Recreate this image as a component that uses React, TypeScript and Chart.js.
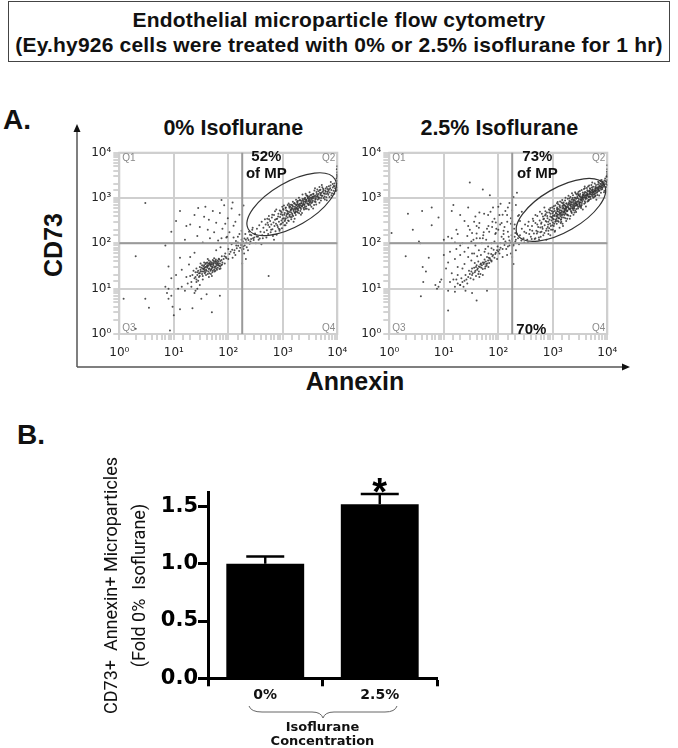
import React, { useEffect, useRef } from "react";
import { Chart, registerables } from "chart.js";

Chart.register(...registerables);

type P = [number, number];

const titleA = "0% Isoflurane";
const titleB = "2.5% Isoflurane";
const barLabels = ["0%", "2.5%"];
const barValues = [1.0, 1.52];
const barErrors = [0.063, 0.088];
const decadeLabels: Record<number, string> = { 1: "10⁰", 10: "10¹", 100: "10²", 1000: "10³", 10000: "10⁴" };

const clusterLowA: P[] = [
  [52,30],[48,34],[45,28],[58,36],[40,31],[62,33],[55,26],[36,27],[66,40],[50,38],[43,24],[60,28],[33,24],[70,36],[47,32],[38,35],[54,41],[42,21],[75,43],[30,22],
  [57,31],[35,31],[64,29],[46,37],[39,26],[51,23],[68,32],[44,42],[28,25],[72,28],[41,29],[59,44],[32,29],[49,27],[78,38],[37,22],[53,35],[27,20],[61,39],[34,19],
  [47,25],[56,29],[43,33],[65,35],[31,26],[82,45],[25,23],[38,30],[69,27],[45,36],[29,18],[52,43],[35,24],[74,33],[41,38],[58,25],[26,28],[48,21],[63,42],[33,33],
  [24,17],[39,20],[86,36],[55,47],[30,30],[67,46],[23,25],[44,18],[90,50],[36,38],[22,20],[28,15],[34,16],[20,19],[50,19],[42,45],[76,52],[26,16],[21,14],[31,36],
  [49,31],[37,29],[61,35],[44,27],[53,33],[40,25],[57,39],[35,27],[46,34],[64,37],[41,33],[51,29],[33,21],[72,41],[29,22],[56,24],[38,23],[68,44],[43,36],[48,26],
  [59,31],[36,33],[54,37],[31,24],[47,40],[62,26],[27,23],[39,37],[77,34],[45,22],[34,28],[52,25],[66,33],[30,19],[42,31],[58,41],[25,18],[71,31],[37,25],[50,35],
];
const clusterHighA: P[] = [
  [310,165],[335,210],[350,140],[370,250],[390,180],[410,300],[420,150],[440,220],[455,175],[470,340],[485,260],[500,135],[510,195],[525,285],[540,160],[555,400],[570,230],[585,310],[600,175],[615,260],
  [630,370],[645,205],[660,145],[675,290],[690,420],[705,240],[720,330],[735,185],[750,270],[770,155],[790,350],[810,230],[830,450],[850,300],[870,190],[890,380],[905,260],[925,510],[945,320],[965,215],
  [985,420],[1000,290],[1030,550],[1050,360],[1070,250],[1090,470],[1110,330],[1140,620],[1160,400],[1180,280],[1210,520],[1230,370],[1260,450],[1290,310],[1310,660],[1340,490],[1370,380],[1400,560],[1430,340],[1460,710],
  [1490,450],[1520,590],[1550,400],[1580,520],[1610,760],[1640,480],[1670,640],[1700,560],[1730,420],[1760,700],[1790,590],[1820,500],[1860,810],[1890,640],[1920,540],[1960,720],[2000,460],[2040,620],[2080,880],[2120,690],
  [2160,570],[2200,780],[2250,650],[2300,950],[2350,730],[2400,600],[2450,840],[2500,700],[2560,1020],[2620,790],[2680,650],[2740,900],[2800,760],[2860,1080],[2930,850],[3000,720],[3070,980],[3140,820],[3220,1150],[3300,930],
  [3380,780],[3460,1050],[3550,880],[3640,1250],[3730,1000],[3830,840],[3930,1130],[4030,960],[4140,1350],[4250,1090],[4370,930],[4490,1220],[4620,1030],[4750,1480],[4890,1160],[5030,1000],[5180,1330],[5340,1120],[5500,1600],[5670,1270],
  [5850,1080],[6030,1450],[6220,1220],[6420,1750],[6620,1380],[6830,1180],[7050,1560],[7280,1330],[7520,1900],[7760,1500],[8010,1280],[8280,1700],[8550,1450],[8830,2100],[9120,1650],[9420,1420],[9700,1900],[10000,1700],
  [10000,2400],[10000,2900],[9900,3300],[10000,3700],[9800,4300],[10000,2100],[9700,2700],[10000,5000],[10000,3100],[9950,1500],
  [950,480],[1150,540],[1350,430],[1500,680],[1700,480],[1900,870],[2100,520],[2350,870],[2600,580],[2900,1010],[3200,700],[3600,1080],[4000,820],[4500,1410],[5000,880],[5600,1500],[6300,1040],[7000,1820],[7800,1150],[8600,1850],
  [1250,320],[1450,560],[1650,350],[1850,740],[2050,750],[2250,470],[2450,950],[2700,1150],[3000,560],[3350,1180],[3750,700],[4200,1230],[4700,790],[5300,1720],[5900,930],[6600,1580],[720,510],[560,340],[840,210],[1050,680],
];
const jitterA: P[] = [
  [1320,610],[2450,560],[880,205],[3100,1340],[640,430],[1980,1010],[5200,1950],[1120,250],[760,560],[2750,580],[4100,720],[1580,300],[3600,590],[6400,890],[980,640],[2300,1190],[520,350],[7200,1050],[1750,920],[430,130],
  [8800,1250],[1280,760],[3900,1650],[690,120],[2150,430],[1430,480],[3350,640],[820,390],[4700,1750],[1090,310],[2620,1240],[5600,1000],[1530,830],[610,200],[3050,880],[1860,560],[7600,2250],[940,270],[2240,670],[1370,640],
  [4350,1130],[1670,470],[2880,990],[1190,440],[6100,1620],[790,250],[3480,820],[2060,900],[1010,570],[5000,1240],[1460,380],[2530,630],[3800,1470],[880,530],[1760,610],[4600,960],[1230,700],[2950,700],[6900,1440],[1640,780],
  [2120,610],[3200,1020],[1070,430],[8200,2050],[1890,480],[2710,840],[540,255],[1390,530],[3950,920],[760,345],[5450,1390],[2380,780],[1540,650],[3620,1230],[990,350],[1980,690],[4900,1530],[1320,400],[2800,1120],[6700,1280],
  [1120,600],[2220,860],[3050,1080],[1700,730],[4300,1540],[1450,600],[2600,850],[3500,970],[1900,590],[5800,1250],[1250,500],[2480,730],[3270,860],[1810,680],[4050,1050],[920,440],[7400,1640],[1580,550],[2170,760],[3020,920],
  [1660,590],[2330,690],[3150,780],[1220,460],[4450,1040],[2660,920],[1830,830],[5150,1120],[1360,710],[3760,1090],[8900,1820],[3380,1000],[2020,650],[1140,360],[6150,1370],[2900,760],[1730,510],[4800,1310],[1500,420],[2550,950],
];
const sparseA: P[] = [
  [2,52],[3,780],[1.2,6],[3.5,3.8],[7,11],[8,10],[7.5,8],[9,7],[8,6],[9.5,4],[10,2.6],[8.5,1.2],[13,3.5],[22,3.7],[12,10],[14,11],[16,9],[18,13],[21,11],[25,9],[26,14],[30,12],[27,10],[17,18],[14,26],[19,34],[11,20],[9,17],[8,31],[13,48],[20,50],[24,62],
  [7,90],[11,310],[16,120],[9,180],[27,145],[13,520],[20,260],[34,105],[24,420],[30,230],[46,130],[38,640],[55,175],[44,330],[65,115],[52,520],[78,210],[60,285],[92,135],[70,470],[105,175],[84,690],[125,245],[98,360],[150,140],[115,590],[175,190],[135,300],[210,120],[160,430],[250,155],[190,680],[280,220],[120,800],[75,900],[42,200],[17,240],[28,600],[36,385],[88,270],
  [60,70],[72,82],[88,60],[100,75],[115,95],[130,70],[150,105],[175,120],[200,90],[225,130],[255,110],[285,130],[320,100],[360,120],[405,95],[195,60],[210,45],[180,36],[190,75],[230,70],[265,150],[160,160],[125,135],[95,140],[75,130],
  [110,65],[140,90],[165,80],[185,110],[205,160],[240,180],[275,200],[300,135],[120,48],[135,55],[85,52],[100,45],[550,19],[70,7],[50,3],[40,7.5],[32,6],[24,8],[3,6],[2,1.3],
  [92,47],[105,58],[118,72],[128,62],[143,78],[158,68],[172,92],[188,85],[215,105],[235,118],[262,125],[218,82],[198,128],[178,72],[152,88],[138,112],[246,98],[292,118],[332,142],[378,128],
];

const clusterLowB: P[] = [
  [50,33],[46,30],[55,38],[42,28],[60,35],[38,25],[65,42],[52,27],[34,22],[70,47],[48,36],[44,24],[58,31],[30,21],[75,40],[40,33],[62,50],[36,29],[80,55],[28,18],
  [56,44],[47,21],[33,28],[68,37],[43,40],[26,16],[85,48],[52,20],[39,19],[90,62],[24,15],[74,58],[31,17],[95,70],[29,25],[66,30],[22,14],[100,66],[37,37],[110,80],
  [25,20],[120,75],[20,12],[130,92],[35,16],[140,100],[18,13],[150,85],[27,13],[160,115],[21,17],[170,105],[23,11],[180,125],[45,18],[190,95],[17,16],[200,140],[16,11],[210,120],
  [49,29],[54,35],[44,31],[59,40],[41,26],[63,36],[37,23],[71,43],[47,34],[52,38],[33,20],[78,52],[57,28],[43,21],[67,48],[32,24],[88,58],[39,30],[105,72],[61,32],
];
const clusterHighB: P[] = [
  [250,150],[270,210],[290,130],[310,260],[325,170],[340,120],[360,300],[380,200],[395,140],[415,240],[430,350],[450,165],[465,125],[480,280],[500,190],[520,400],[540,230],[555,135],[575,320],[590,175],
  [610,270],[630,450],[650,210],[670,150],[690,350],[710,250],[730,510],[750,190],[770,300],[790,400],[810,230],[830,160],[850,560],[870,330],[890,270],[910,450],[930,200],[950,370],[975,620],[1000,290],
  [1020,500],[1040,240],[1060,400],[1085,180],[1110,680],[1130,330],[1155,460],[1180,270],[1205,560],[1230,380],[1255,730],[1280,300],[1305,490],[1330,220],[1360,420],[1390,620],[1420,340],[1450,800],[1480,510],[1510,270],
  [1540,440],[1570,680],[1600,370],[1640,560],[1680,880],[1720,460],[1760,310],[1800,620],[1840,520],[1880,960],[1920,410],[1960,720],[2000,570],[2050,350],[2100,1050],[2150,640],[2200,490],[2250,820],[2300,590],[2350,1150],
  [2400,430],[2460,720],[2520,900],[2580,530],[2640,1260],[2700,680],[2770,820],[2840,1000],[2910,590],[2980,1380],[3050,760],[3130,1100],[3210,920],[3300,670],[3390,1500],[3480,850],[3570,1200],[3670,1010],[3770,750],[3870,1640],
  [3980,950],[4090,1320],[4200,1120],[4320,840],[4440,1790],[4560,1050],[4690,1440],[4820,1230],[4960,950],[5100,1950],[5250,1160],[5400,1570],[5550,1350],[5710,1050],[5880,2100],[6050,1280],[6230,1720],[6410,1480],[6600,1170],[6800,2300],
  [7000,1420],[7200,1880],[7420,1620],[7640,1300],[7870,2500],[8110,1580],[8360,2050],[8620,1780],[8880,1450],[9150,2700],[9430,1750],[9720,2250],[10000,1950],[10000,2900],[10000,3400],[10000,2500],[9900,3800],[10000,4300],[10000,5300],[9950,3100],
  [660,390],[780,480],[900,600],[1040,660],[1190,770],[1360,840],[1550,620],[1770,760],[2010,860],[2290,1000],[2610,760],[2950,1170],[3350,890],[3800,1280],[4300,1480],[4850,1590],[5500,1780],[6200,1940],[7000,2180],[7900,1900],
  [700,170],[820,260],[950,320],[1090,420],[1240,510],[1420,480],[1610,590],[1830,430],[2080,690],[2370,780],[2690,960],[3060,640],[3480,1050],[3950,1150],[4470,1200],[5070,1340],[5750,1480],[6500,1640],[7350,1780],[8300,2300],
  [1150,310],[1300,360],[1470,410],[1650,500],[1890,640],[2150,520],[2450,620],[2800,720],[3150,810],[3600,920],[4100,1040],[4650,920],[5300,1100],[6000,1600],[6800,1520],[7700,2050],[8700,2150],[520,260],[440,310],[370,160],
  [1200,620],[1350,540],[1520,760],[1720,660],[1950,780],[2220,920],[2520,660],[2860,840],[3260,1020],[3700,1120],[4200,970],[4750,1350],[5400,1250],[6100,1400],[6900,1760],[7800,1540],[600,140],[480,130],[560,120],[410,125],
  [760,120],[900,150],[1000,200],[1400,280],[1700,360],[2500,480],[3400,700],[4500,860],[6000,1100],[700,620],[580,500],[480,420],[350,240],[300,180],[230,130],[205,110],[240,95],[265,115],[300,105],[350,105],
];
const jitterB: P[] = [
  [1260,430],[2380,540],[860,215],[3150,1430],[620,290],[1940,1120],[5300,2200],[1100,190],[740,440],[2680,490],[4050,650],[1540,240],[3550,560],[6300,920],[960,520],[2250,1280],[510,165],[7100,1130],[1710,1010],[420,190],
  [8700,1340],[1230,820],[3850,1800],[670,340],[2100,400],[1400,330],[3300,600],[800,360],[4650,1900],[1060,270],[2570,1340],[5500,1010],[1490,900],[590,225],[3000,950],[1820,510],[7500,2450],[920,240],[2190,720],[1340,690],
  [4280,1210],[1630,420],[2830,1070],[1160,390],[6000,1750],[770,210],[3420,780],[2020,980],[990,460],[4900,1350],[1430,300],[2480,590],[3730,1590],[860,480],[1720,540],[4520,900],[1200,580],[2900,640],[6800,1550],[1600,720],
  [2070,560],[3140,1090],[1040,340],[8100,2250],[1850,430],[2660,780],[530,180],[1360,470],[3880,850],[740,310],[5350,1500],[2330,700],[1510,590],[3550,1320],[970,380],[1940,620],[4800,1650],[1290,360],[2750,1200],[6600,1380],
  [1090,520],[2170,790],[2990,1160],[1660,680],[4220,1660],[1420,530],[2550,780],[3430,1040],[1860,530],[5700,1350],[1220,440],[2430,670],[3210,800],[1770,620],[3970,1130],[900,390],[7300,1770],[1550,480],[2120,700],[2960,860],
  [1620,520],[2280,630],[3090,720],[1190,410],[4370,1120],[2610,850],[1790,760],[5050,1210],[1330,640],[3690,1180],[8800,1960],[3310,930],[1970,580],[1110,300],[6050,1480],[2840,690],[1690,450],[4700,1420],[1470,370],[2490,1010],
  [830,300],[1010,410],[1240,310],[1580,800],[1840,350],[2230,470],[2720,570],[3260,640],[3940,790],[4610,1070],[5150,1480],[5800,1220],[6450,1300],[7200,1470],[8000,1700],[8900,2450],[9500,2050],[9650,3000],[640,230],[720,410],
  [890,540],[1060,580],[1290,570],[1500,670],[1700,580],[2090,840],[2360,920],[2620,1020],[2890,1280],[3180,1230],[3530,1010],[3900,1350],[4310,1260],[4780,1100],[5220,1700],[5650,1180],[6150,1600],[6750,1990],[7450,2070],[8250,1880],
  [1140,470],[1380,390],[1610,490],[1880,700],[2140,590],[2410,860],[2740,740],[3120,690],[3520,1120],[3960,1020],[4410,1390],[4870,1050],[5430,1400],[6080,1130],[6950,1630],[7950,1720],[980,250],[1180,350],[1350,450],[1730,640],
  [1000,350],[1200,510],[1450,440],[1750,570],[2050,770],[2350,580],[2650,690],[3050,800],[3450,960],[3850,1060],[4250,1180],[4750,1240],[5350,1320],[5950,1430],[6700,1700],[7600,1800],[8500,2000],[9300,2350],[830,190],[620,180],
];
const sparseB: P[] = [
  [2,52],[2.7,200],[3.5,110],[2.2,450],[4,520],[6,620],[1.1,170],[3.8,6.8],[3.7,100],[4.2,14],[4.1,30],[4.7,24],[5.3,48],[7,12],[8,11],[8.5,14],[9,16],[7.5,10],[12,9],[13,14],[15,16],[16,8.5],[18,20],[11,28],[12,3.3],[20,12],[25,9],[33,8],[40,5.5],[62,9],
  [6,250],[12,140],[8,370],[17,200],[10,120],[24,310],[14,520],[33,170],[20,420],[45,280],[28,620],[52,130],[38,390],[72,500],[62,210],[100,640],[85,350],[135,520],[115,280],[160,780],[190,1050],[145,420],[220,1300],[70,1150],[52,1550],[15,700],[30,2200],[40,240],[55,450],[90,170],[105,420],[125,160],[180,300],[240,420],[210,700],
  [14,130],[16,105],[18,160],[22,100],[27,145],[30,200],[35,120],[40,165],[46,130],[53,150],[60,120],[68,180],[77,230],[88,160],[100,200],[115,140],[130,230],[150,180],[170,270],[195,210],[220,160],[250,310],[120,430],[90,290],[75,100],
  [24,65],[28,80],[33,60],[38,90],[44,70],[50,100],[58,75],[65,85],[75,78],[85,110],[97,85],[110,100],[125,125],[140,75],[155,140],[175,150],[190,90],[210,70],[180,50],[190,35],[170,60],[145,55],[120,50],[95,45],[75,42],
  [16,45],[20,55],[24,35],[28,50],[32,42],[36,60],[41,52],[18,30],[22,28],[14,22],[12,38],[10,55],[17,75],[20,90],[13,65],[32,110],[40,130],[48,55],[56,65],[66,60],[82,72],[105,60],[135,110],[160,90],[205,170],
  [28,240],[36,300],[44,220],[54,175],[66,240],[78,300],[92,210],[108,260],[125,190],[146,300],[170,360],[200,260],[230,400],[270,500],[65,420],[80,620],[150,620],[45,480],[110,750],[180,540],
];

const ellipseA = { x: 1455, y: 730 };
const ellipseB = { x: 1410, y: 546 };

const axisFont = { family: "'Liberation Sans', Arial, sans-serif" };
const wideFont = { family: "'DejaVu Sans', sans-serif" };

const cytoPlugin = (ell: { x: number; y: number }, notes: [string, number, number][]) => ({
  id: "cyto",
  beforeDatasetsDraw(c: any) {
    const { ctx, chartArea: a } = c;
    ctx.save();
    ctx.strokeStyle = "#cfcfcf";
    ctx.lineWidth = 2;
    ctx.strokeRect(a.left, a.top, a.right - a.left, a.bottom - a.top);
    ctx.restore();
  },
  afterDatasetsDraw(c: any) {
    const { ctx, chartArea: a, scales } = c;
    ctx.save();
    ctx.strokeStyle = "#9a9a9a";
    ctx.lineWidth = 2;
    const qx = scales.x.getPixelForValue(180);
    const qy = scales.y.getPixelForValue(100);
    ctx.beginPath();
    ctx.moveTo(qx, a.top);
    ctx.lineTo(qx, a.bottom);
    ctx.moveTo(a.left, qy);
    ctx.lineTo(a.right, qy);
    ctx.stroke();
    ctx.strokeStyle = "#333";
    ctx.lineWidth = 1.2;
    ctx.beginPath();
    ctx.ellipse(scales.x.getPixelForValue(ell.x), scales.y.getPixelForValue(ell.y), 50, 22, -Math.PI / 6, 0, Math.PI * 2);
    ctx.stroke();
    ctx.font = "10px " + axisFont.family;
    ctx.fillStyle = "#8a8a8a";
    ctx.textBaseline = "middle";
    ctx.textAlign = "left";
    ctx.fillText("Q1", a.left + 3, a.top + 6);
    ctx.fillText("Q3", a.left + 3, a.bottom - 6);
    ctx.textAlign = "right";
    ctx.fillText("Q2", a.right - 2, a.top + 6);
    ctx.fillText("Q4", a.right - 2, a.bottom - 6);
    ctx.fillStyle = "#111";
    ctx.textAlign = "center";
    ctx.font = "bold 15px " + axisFont.family;
    notes.forEach(([t, x, y]) => ctx.fillText(t, a.left + x, a.top + y));
    ctx.restore();
  },
});

function makeCyto(canvas: HTMLCanvasElement, pts: P[], rightPad: number, plugin: any) {
  const isDecade = (v: number) => Number.isInteger(Math.round(Math.log10(v) * 1e6) / 1e6);
  const axis = (extra: any, padding: number) => ({
    type: "logarithmic",
    min: 1,
    max: 10000,
    border: { color: "#cfcfcf", width: 2 },
    grid: {
      color: (c: any) => (c.tick && isDecade(c.tick.value) ? "#cfcfcf" : "rgba(0,0,0,0)"),
      lineWidth: 2,
      tickColor: "#a8a8a8",
      tickWidth: 1,
      tickLength: 6,
    },
    ticks: {
      autoSkip: false,
      maxRotation: 0,
      minRotation: 0,
      color: "#222",
      padding,
      font: { ...wideFont, size: 12 },
      callback: (v: number) => decadeLabels[Math.round(v * 1000) / 1000] ?? "",
    },
    ...extra,
  });
  return new Chart(canvas, {
    type: "scatter",
    data: {
      datasets: [
        {
          data: pts.map(([x, y]) => ({ x, y })),
          backgroundColor: "rgba(50,50,50,0.85)",
          borderWidth: 0,
          pointRadius: 1,
        },
      ],
    },
    options: {
      responsive: false,
      animation: false,
      layout: { padding: { right: rightPad, top: 42.7 } },
      plugins: {
        legend: { display: false },
        tooltip: { enabled: false },
        title: { display: false },
      },
      scales: {
        x: axis({ afterFit: (s: any) => { s.height = 30; } }, 6),
        y: axis({ afterFit: (s: any) => { s.width = 31.3; } }, 2),
      },
    },
    plugins: [plugin],
  } as any);
}

const errorPlugin = {
  id: "errs",
  afterDatasetsDraw(c: any) {
    const { ctx, scales } = c;
    ctx.save();
    ctx.strokeStyle = "#000";
    ctx.lineWidth = 2.4;
    barValues.forEach((v, i) => {
      const x = scales.x.getPixelForValue(i);
      const y0 = scales.y.getPixelForValue(v);
      const y1 = scales.y.getPixelForValue(v + barErrors[i]);
      ctx.beginPath();
      ctx.moveTo(x, y0);
      ctx.lineTo(x, y1);
      ctx.moveTo(x - 19, y1);
      ctx.lineTo(x + 19, y1);
      ctx.stroke();
    });
    ctx.fillStyle = "#000";
    ctx.font = "bold 38px " + axisFont.family;
    ctx.textAlign = "center";
    ctx.textBaseline = "top";
    ctx.fillText("*", scales.x.getPixelForValue(1), scales.y.getPixelForValue(barValues[1] + barErrors[1]) - 19);
    ctx.restore();
  },
};

function makeBar(canvas: HTMLCanvasElement) {
  return new Chart(canvas, {
    type: "bar",
    data: {
      labels: barLabels,
      datasets: [{ data: barValues, backgroundColor: "#000", barPercentage: 0.68, categoryPercentage: 1 }],
    },
    options: {
      responsive: false,
      animation: false,
      layout: { padding: { top: 42.7, right: 4 } },
      plugins: { legend: { display: false }, tooltip: { enabled: false }, title: { display: false } },
      scales: {
        x: {
          border: { color: "#000", width: 3 },
          grid: { drawOnChartArea: false, tickColor: "#000", tickWidth: 3, tickLength: 8 },
          ticks: { color: "#111", padding: 1, font: { ...wideFont, size: 14, weight: "bold" } },
          title: {
            display: true,
            text: ["Isoflurane", "Concentration"],
            color: "#111",
            font: { ...wideFont, size: 13, weight: "bold", lineHeight: 1.05 },
            padding: { top: 0, bottom: 0 },
          },
          afterFit: (s: any) => { s.height = 69.7; },
        },
        y: {
          min: 0,
          max: 1.62,
          border: { color: "#000", width: 3 },
          grid: { drawOnChartArea: false, tickColor: "#000", tickWidth: 3, tickLength: 10 },
          ticks: {
            stepSize: 0.5,
            includeBounds: false,
            color: "#000",
            padding: 0,
            font: { ...wideFont, size: 21, weight: "bold" },
            callback: (v: number) => v.toFixed(1),
          },
          title: {
            display: true,
            text: ["CD73+  Annexin+ Microparticles", "(Fold 0%  Isoflurane)"],
            color: "#111",
            font: { family: "Roboto, 'Liberation Sans', sans-serif", size: 18, lineHeight: 1.55 },
            padding: 0,
          },
          afterFit: (s: any) => { s.width = 109; },
        },
      },
    },
    plugins: [errorPlugin],
  } as any);
}

const abs = (left: number, top: number, extra: React.CSSProperties = {}): React.CSSProperties => ({
  position: "absolute",
  left,
  top,
  fontFamily: axisFont.family,
  color: "#111",
  whiteSpace: "nowrap",
  ...extra,
});

export default function App() {
  const a = useRef<HTMLCanvasElement>(null);
  const b = useRef<HTMLCanvasElement>(null);
  const c = useRef<HTMLCanvasElement>(null);
  useEffect(() => {
    const ca = makeCyto(
      a.current!,
      [...clusterLowA, ...clusterHighA, ...jitterA, ...sparseA],
      41.7,
      cytoPlugin(ellipseA, [["52%", 147, 4], ["of MP", 147, 21.5]]),
    );
    const cb = makeCyto(
      b.current!,
      [...clusterLowB, ...clusterHighB, ...jitterB, ...sparseB],
      33.7,
      cytoPlugin(ellipseB, [["73%", 148, 4], ["of MP", 148, 21.5], ["70%", 142, 177]]),
    );
    const cc = makeBar(c.current!);
    return () => {
      ca.destroy();
      cb.destroy();
      cc.destroy();
    };
  }, []);
  return (
    <div style={{ position: "absolute", left: 0, top: 0, width: 678, height: 748, background: "#fff", overflow: "hidden" }}>
      <div
        style={abs(8, 1, {
          width: 660,
          height: 54,
          border: "1px solid #444",
          textAlign: "center",
          fontWeight: "bold",
          fontSize: 21,
          letterSpacing: 0.2,
          lineHeight: "25px",
          paddingTop: 5,
          boxSizing: "content-box",
        })}
      >
        Endothelial microparticle flow cytometry
        <br />
        (Ey.hy926 cells were treated with 0% or 2.5% isoflurane for 1 hr)
      </div>
      <div style={abs(3, 104, { fontWeight: "bold", fontSize: 28 })}>A.</div>
      <div style={abs(17, 419, { fontWeight: "bold", fontSize: 28 })}>B.</div>
      <div style={abs(233.3, 128, { fontWeight: "bold", fontSize: 21.5, transform: "translate(-50%,-50%)" })}>{titleA}</div>
      <div style={abs(499.3, 128, { fontWeight: "bold", fontSize: 21.5, transform: "translate(-50%,-50%)" })}>{titleB}</div>
      <div style={abs(53, 245, { fontWeight: "bold", fontSize: 25, transform: "translate(-50%,-50%) rotate(-90deg)" })}>CD73</div>
      <div style={abs(355, 381, { fontWeight: "bold", fontSize: 25, transform: "translate(-50%,-50%)" })}>Annexin</div>
      <svg style={{ position: "absolute", left: 0, top: 0 }} width={678} height={748}>
        <path d="M77 367 L77 130 M77 367 L623 367" stroke="#555" strokeWidth={1.5} fill="none" />
        <path d="M77 124 L73.5 132 L80.5 132 Z M630 367 L622 363.5 L622 370.5 Z" fill="#111" />
        <path
          d="M249 706 Q251 712 262 712 L312 712 Q321 712 323 718 Q325 712 334 712 L385 712 Q395 712 397 706"
          stroke="#666"
          strokeWidth={1}
          fill="none"
        />
      </svg>
      <canvas ref={a} width={291} height={254} style={{ position: "absolute", left: 88, top: 110 }} />
      <canvas ref={b} width={283} height={254} style={{ position: "absolute", left: 358, top: 110 }} />
      <canvas ref={c} width={342} height={298} style={{ position: "absolute", left: 99, top: 450 }} />
    </div>
  );
}
